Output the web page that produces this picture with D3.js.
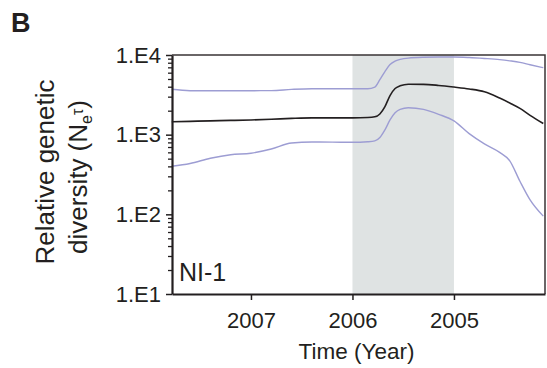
<!DOCTYPE html>
<html>
<head>
<meta charset="utf-8">
<script src="https://cdn.jsdelivr.net/npm/d3@7"></script>
<style>
  body { margin: 0; background: #fff; }
  svg text { font-family: "Liberation Sans", Arial, sans-serif; fill: #231f20; }
</style>
</head>
<body>
<div id="plot"></div>
<script>
// time points (years, going back in time to the right)
const years = [2007.78, 2007.6, 2007.4, 2007.2, 2007.0, 2006.8, 2006.6, 2006.4, 2006.2, 2006.0,
    2005.85, 2005.78, 2005.73, 2005.68, 2005.63, 2005.58, 2005.53, 2005.45, 2005.3, 2005.15,
    2005.0, 2004.85, 2004.7, 2004.55, 2004.45, 2004.35, 2004.25, 2004.12];

// median and 95% HPD bounds of Ne*tau
const median = [1455, 1470, 1490, 1510, 1528, 1560, 1600, 1625, 1625, 1625,
    1640, 1675, 1820, 2250, 3100, 3800, 4100, 4290, 4280, 4150,
    3960, 3750, 3450, 2880, 2500, 2140, 1750, 1380];
const upper = [3710, 3565, 3565, 3565, 3565, 3570, 3700, 3775, 3775, 3775,
    3775, 3950, 4900, 6200, 7600, 8400, 8800, 9150, 9370, 9430,
    9440, 9300, 9050, 8750, 8450, 8090, 7550, 6930];
const lower = [401, 435, 505, 560, 585, 660, 785, 808, 805, 802,
    815, 835, 920, 1150, 1530, 1880, 2080, 2180, 2080, 1800,
    1486, 1030, 766, 600, 470, 260, 152, 95];

// shaded period
const shade = [2006, 2005];

const xTicks = [2007, 2006, 2005];
const yMajor = [10, 100, 1000, 10000];

const svg = d3.select("#plot").append("svg")
    .attr("width", 547)
    .attr("height", 368);

const m = { left: 172, right: 545, top: 55, bottom: 294 };

const x = d3.scaleLinear()
    .domain([2007.778, 2004.103])
    .range([m.left, m.right]);

const y = d3.scaleLog()
    .domain([10, 10000])
    .range([m.bottom, m.top]);

// shaded band
svg.append("rect")
    .attr("x", x(shade[0]))
    .attr("y", m.top)
    .attr("width", x(shade[1]) - x(shade[0]))
    .attr("height", m.bottom - m.top)
    .attr("fill", "#dfe3e3");

// lines
const line = d3.line()
    .x((d, i) => x(years[i]))
    .y(d => y(d))
    .curve(d3.curveMonotoneX);

svg.append("path").datum(upper)
    .attr("d", line).attr("fill", "none")
    .attr("stroke", "#9d9dd3").attr("stroke-width", 1.4);
svg.append("path").datum(lower)
    .attr("d", line).attr("fill", "none")
    .attr("stroke", "#9d9dd3").attr("stroke-width", 1.4);
svg.append("path").datum(median)
    .attr("d", line).attr("fill", "none")
    .attr("stroke", "#231f20").attr("stroke-width", 1.6);

// frame top and right
svg.append("path")
    .attr("d", `M${m.left},${m.top}H${m.right}V${m.bottom}`)
    .attr("fill", "none")
    .attr("stroke", "#3a3536")
    .attr("stroke-width", 1.5);

// y axis: minor ticks
const minor = y.ticks().filter(v => yMajor.indexOf(v) < 0);
svg.append("g")
    .attr("transform", `translate(${m.left},0)`)
    .call(d3.axisLeft(y).tickValues(minor).tickSize(4).tickFormat(""))
    .call(g => g.select(".domain").remove())
    .call(g => g.selectAll("line").attr("stroke", "#231f20").attr("stroke-width", 1.3));

// y axis: major ticks
svg.append("g")
    .attr("transform", `translate(${m.left},0)`)
    .call(d3.axisLeft(y).tickValues(yMajor).tickSize(6).tickSizeOuter(0)
        .tickFormat(d => "1.E" + Math.round(Math.log10(d))))
    .call(g => g.select(".domain").attr("stroke", "#231f20").attr("stroke-width", 2.2))
    .call(g => g.selectAll("line").attr("stroke", "#231f20").attr("stroke-width", 1.5))
    .call(g => g.selectAll("text").attr("font-size", 22).attr("x", -11)
        .style("font-family", "Liberation Sans, Arial, sans-serif").attr("fill", "#231f20"));

// x axis
svg.append("g")
    .attr("transform", `translate(0,${m.bottom})`)
    .call(d3.axisBottom(x).tickValues(xTicks).tickSize(6).tickSizeOuter(0).tickFormat(d3.format("d")))
    .call(g => g.select(".domain").attr("stroke", "#231f20").attr("stroke-width", 2.2))
    .call(g => g.selectAll("line").attr("stroke", "#231f20").attr("stroke-width", 1.5))
    .call(g => g.selectAll("text").attr("font-size", 22).attr("y", 18)
        .style("font-family", "Liberation Sans, Arial, sans-serif").attr("fill", "#231f20"));

// axis titles
svg.append("text")
    .attr("x", (m.left + m.right) / 2 - 2)
    .attr("y", 359)
    .attr("text-anchor", "middle")
    .attr("font-size", 22.5)
    .text("Time (Year)");

const ylab = svg.append("g")
    .attr("transform", "translate(0,172) rotate(-90)");
ylab.append("text")
    .attr("x", 0).attr("y", 54)
    .attr("text-anchor", "middle")
    .attr("font-size", 26)
    .text("Relative genetic");
const l2 = ylab.append("text")
    .attr("x", -5).attr("y", 87)
    .attr("text-anchor", "middle")
    .attr("font-size", 26);
l2.append("tspan").text("diversity (N");
l2.append("tspan").attr("font-size", 16).attr("dy", 5).text("e");
l2.append("tspan").attr("font-size", 16).attr("dy", -9).text("τ");
l2.append("tspan").attr("dy", 4).text(")");

// panel label and series name
svg.append("text")
    .attr("x", 11).attr("y", 32)
    .attr("font-size", 27)
    .attr("font-weight", "bold")
    .text("B");

svg.append("text")
    .attr("x", 179).attr("y", 281)
    .attr("font-size", 25)
    .text("NI-1");
</script>
</body>
</html>
